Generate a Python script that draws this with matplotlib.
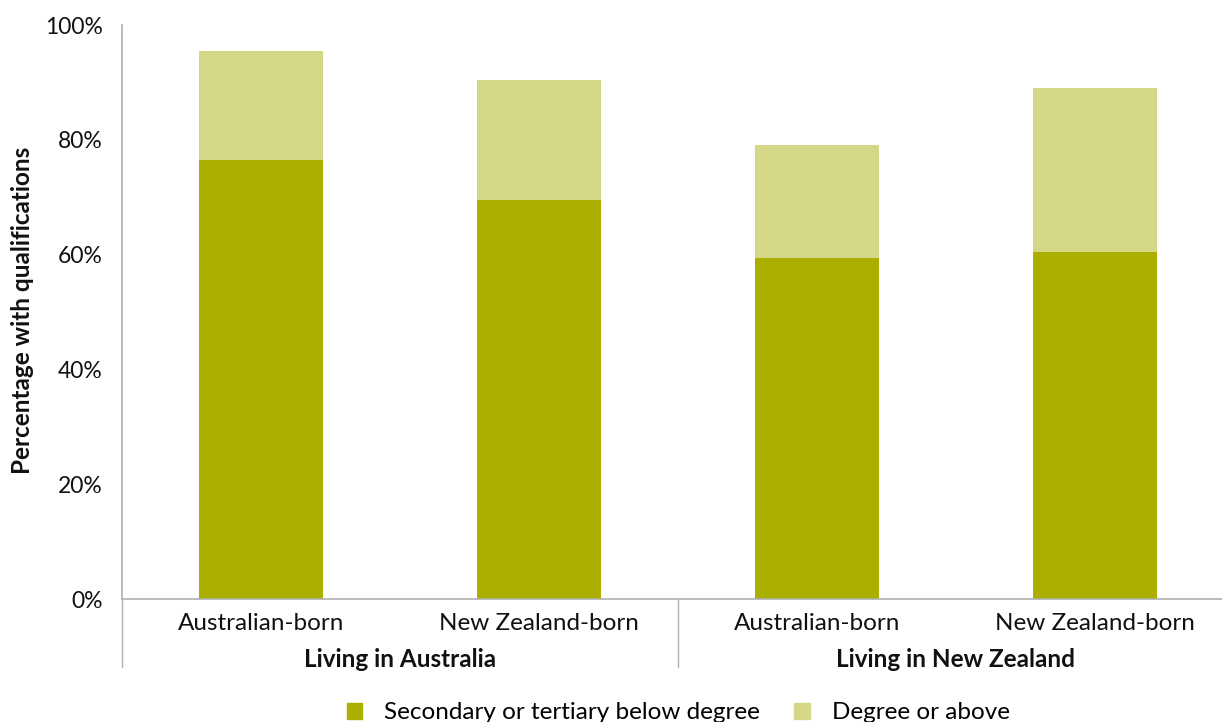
import matplotlib
matplotlib.use("Agg")
import matplotlib.pyplot as plt
from matplotlib.lines import Line2D
from matplotlib.patches import Patch
import numpy as np

plt.rcParams["font.family"] = ["Lato", "DejaVu Sans"]

categories = ["Australian-born", "New Zealand-born", "Australian-born", "New Zealand-born"]
groups = ["Living in Australia", "Living in New Zealand"]
below_degree = [76.5, 69.5, 59.4, 60.5]
degree_above = [19.0, 20.9, 19.7, 28.5]
series_names = ["Secondary or tertiary below degree", "Degree or above"]
yticks = [0, 20, 40, 60, 80, 100]

DARK = "#aaaf00"
LIGHT = "#d4d785"
GRID = "#b0b0b0"

fig = plt.figure(figsize=(12.22, 7.22), dpi=100)
# plot area runs a little past the right edge of the figure, as in the original
ax = fig.add_axes([122 / 1222, 123 / 722, 1112 / 1222, 574 / 722])

x = np.arange(len(categories))
ax.bar(x, below_degree, width=0.443, color=DARK, label=series_names[0])
ax.bar(x, degree_above, width=0.443, bottom=below_degree, color=LIGHT,
       label=series_names[1])

ax.set_xlim(-0.5, len(categories) - 0.5)
ax.set_ylim(0, 100)
ax.set_yticks(yticks)
ax.set_yticklabels([f"{t}%" for t in yticks], fontsize=16.5, color="#111111")
ax.tick_params(axis="y", length=0, pad=14)
ax.set_xticks(x)
ax.set_xticklabels(categories, fontsize=17.5, color="#111111")
ax.tick_params(axis="x", length=0, pad=10)

for side in ["top", "right"]:
    ax.spines[side].set_visible(False)
for side in ["left", "bottom"]:
    ax.spines[side].set_color(GRID)
    ax.spines[side].set_linewidth(1.2)

fig.text(23 / 1222, (722 - 310) / 722, "Percentage with qualifications",
         rotation=90, ha="center", va="center", fontsize=17.5,
         fontweight="bold", color="#111111")

# group separators and group labels below the axis
for xs in [-0.5, 1.5]:
    ax.add_line(Line2D([xs, xs], [0, -11.8], color=GRID, lw=1.0,
                       clip_on=False))
for i, g in enumerate(groups):
    ax.text(2 * i + 0.5, -10.6, g, ha="center", va="center", fontsize=17.5,
            fontweight="bold", color="#111111")

handles = [Patch(color=DARK), Patch(color=LIGHT)]
fig.legend(handles, series_names, loc="lower center",
           bbox_to_anchor=(0.555, -0.032), ncol=2, frameon=False, fontsize=17.5,
           handlelength=0.65, handleheight=0.65, columnspacing=1.4,
           handletextpad=0.9)

fig.savefig("out.png", dpi=100)
